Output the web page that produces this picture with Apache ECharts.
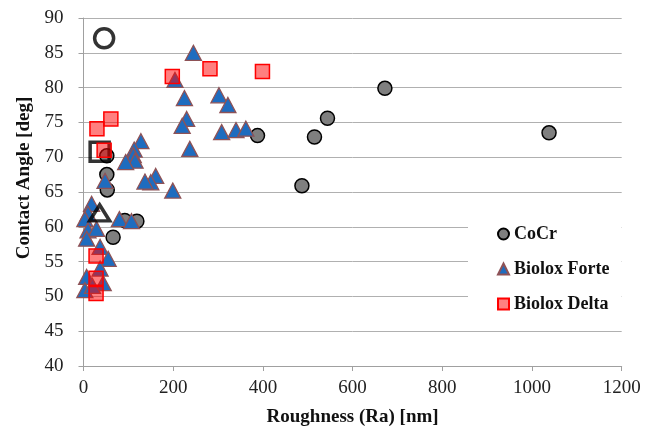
<!DOCTYPE html>
<html>
<head>
<meta charset="utf-8">
<script src="https://cdn.jsdelivr.net/npm/echarts@6/dist/echarts.min.js"></script>
<style>html,body{margin:0;padding:0;background:#fff;}#c{width:655px;height:432px;}</style>
</head>
<body>
<div id="c"></div>
<script>
// Series values: [roughness Ra (nm), contact angle (deg)]
const cocr = [
  [52, 70.2], [52, 67.5], [53, 65.3], [92, 60.9], [119, 60.8], [66, 58.5],
  [388, 73.1], [515, 72.9], [544, 75.6], [487, 65.9], [672, 79.9], [1038, 73.5]
];
const bioloxForte = [
  [245, 85.0], [204, 81.1], [225, 78.5], [302, 78.9], [322, 77.5], [230, 75.5],
  [220, 74.5], [308, 73.6], [340, 73.9], [362, 74.1], [237, 71.2], [128, 72.3],
  [113, 71.1], [111, 70.3], [115, 69.5], [94, 69.3], [161, 67.3], [150, 66.4],
  [137, 66.5], [199, 65.2], [48, 66.6], [80, 61.1], [107, 60.8], [18, 63.3],
  [10, 61.9], [3, 61.1], [10, 59.5], [29, 59.7], [7, 58.3], [37, 57.1],
  [55, 55.4], [37, 54.0], [7, 52.8], [44, 51.9], [3, 50.9], [20, 51.5]
];
const bioloxDelta = [
  [198, 81.6], [282, 82.7], [399, 82.3], [30, 74.1], [61, 75.5], [46, 71.0],
  [28, 55.8], [28, 52.6], [28, 50.4]
];
// Open (average) markers
const avgCircle = [[46, 87.1]];
const avgSquare = [[36, 70.8]];
const avgTriangle = [[36, 62.0]];

const seriesNames = ['CoCr', 'Biolox Forte', 'Biolox Delta'];
const xTitle = 'Roughness (Ra) [nm]';
const yTitle = 'Contact Angle [deg]';

const chart = echarts.init(document.getElementById('c'), null, {renderer: 'canvas'});
const serif = 'Liberation Serif';
const tickRich = {t: {fontFamily: serif, fontSize: 19, color: '#222'}};
const tickFmt = function (v) { return '{t|' + v + '}'; };
chart.setOption({
  animation: false,
  backgroundColor: '#fff',
  textStyle: {fontFamily: serif},
  grid: {left: 83.5, right: 33.3, top: 18, bottom: 63.5},
  xAxis: {
    type: 'value', min: 0, max: 1200, interval: 200,
    name: xTitle, nameLocation: 'middle', nameGap: 42,
    nameTextStyle: {fontFamily: serif, fontWeight: 'bold', fontSize: 19, color: '#111'},
    axisLine: {lineStyle: {color: '#a0a0a0', width: 1}},
    axisTick: {show: true, length: 5, lineStyle: {color: '#a0a0a0'}},
    axisLabel: {fontFamily: serif, fontSize: 19, color: '#222', margin: 13, formatter: tickFmt, rich: tickRich},
    splitLine: {show: false}
  },
  yAxis: {
    type: 'value', min: 40, max: 90, interval: 5,
    name: yTitle, nameLocation: 'middle', nameGap: 48, nameRotate: 90,
    nameTextStyle: {fontFamily: serif, fontWeight: 'bold', fontSize: 19, color: '#111', padding: [0, 0, 0, 28]},
    axisLine: {show: true, lineStyle: {color: '#a0a0a0', width: 1}},
    axisTick: {show: true, length: 5, lineStyle: {color: '#a0a0a0'}},
    axisLabel: {fontFamily: serif, fontSize: 19, color: '#222', margin: 20, formatter: tickFmt, rich: tickRich},
    splitLine: {show: true, lineStyle: {color: '#b0b0b0', width: 1}}
  },
  legend: {
    data: seriesNames,
    orient: 'vertical', left: 468, top: 205,
    backgroundColor: '#fff',
    padding: [20, 12, 14, 29],
    itemGap: 17, itemWidth: 11, itemHeight: 11,
    textStyle: {fontFamily: serif, fontWeight: 'bold', fontSize: 18, color: '#111'}
  },
  series: [
    {
      name: 'CoCr', type: 'scatter', data: cocr, symbol: 'circle', symbolSize: 14, z: 2,
      itemStyle: {color: '#7f7f7f', borderColor: '#000', borderWidth: 1.5, opacity: 1}
    },
    {
      name: 'Biolox Forte', type: 'scatter', data: bioloxForte, symbol: 'triangle', symbolSize: [16, 15], z: 3,
      itemStyle: {color: '#1e6cbf', borderColor: '#8e5256', borderWidth: 1.3, opacity: 1}
    },
    {
      name: 'avg', type: 'scatter', data: avgCircle, symbol: 'circle', symbolSize: 19, z: 4,
      itemStyle: {color: 'rgba(0,0,0,0)', borderColor: '#000', borderWidth: 3.5}
    },
    {
      name: 'avg2', type: 'scatter', data: avgSquare, symbol: 'rect', symbolSize: 19, z: 4,
      itemStyle: {color: 'rgba(0,0,0,0)', borderColor: '#000', borderWidth: 3.5}
    },
    {
      name: 'avg3', type: 'scatter', data: avgTriangle, symbol: 'triangle', symbolSize: [20, 16], z: 4,
      itemStyle: {color: 'rgba(0,0,0,0)', borderColor: '#000', borderWidth: 3.5}
    },
    {
      name: 'Biolox Delta', type: 'scatter', data: bioloxDelta, symbol: 'rect', symbolSize: 14, z: 5,
      itemStyle: {color: 'rgba(255,0,0,0.5)', borderColor: '#ff0000', borderWidth: 1.5, opacity: 1}
    }
  ]
});
</script>
</body>
</html>
